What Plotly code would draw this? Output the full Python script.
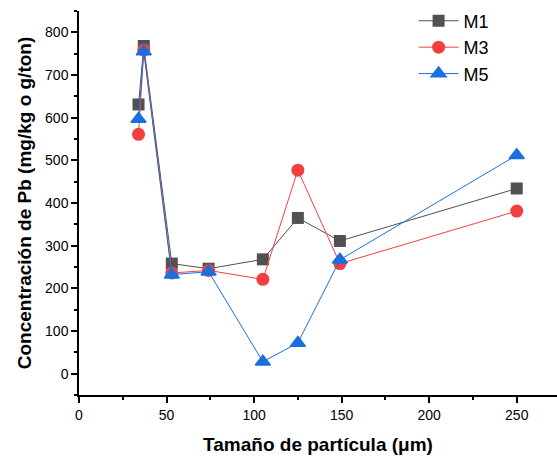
import plotly.graph_objects as go

x_vals = [34, 37, 53, 74, 105, 125, 149, 250]
m1 = [631, 768, 258, 246, 268, 365, 311, 434]
m3 = [561, 759, 236, 242, 221, 477, 258, 381]
m5 = [597, 755, 232, 239, 28, 72, 267, 512]

series = [
    ("M1", m1, "#515151", "square", 12, 0),
    ("M3", m3, "#F14040", "circle", 13, 0),
    ("M5", m5, "#1A6FDF", "triangle-up", 13, 1.5),
]

fig = go.Figure()
for name, ys, col, sym, sz, lw in series:
    fig.add_trace(go.Scatter(
        x=x_vals, y=ys, name=name, mode="lines+markers",
        line=dict(color=col, width=1),
        marker=dict(symbol=sym, size=sz, color=col, line=dict(width=lw, color=col)),
        cliponaxis=False,
    ))

font = "Liberation Sans, Arial, sans-serif"
fig.update_layout(
    width=557, height=460,
    margin=dict(l=79, r=0, t=11, b=65),
    paper_bgcolor="white", plot_bgcolor="white",
    font=dict(family=font, size=14, color="black"),
    showlegend=True,
    legend=dict(x=0.70, y=1.022, xanchor="left", yanchor="top",
                bgcolor="rgba(0,0,0,0)", font=dict(size=18, family=font),
                tracegroupgap=0, itemwidth=40),
)
fig.update_xaxes(
    range=[0, 273], showgrid=False, zeroline=False, automargin=False,
    showline=True, linecolor="black", linewidth=1.5,
    ticks="outside", ticklen=6, tickwidth=1.5, tickcolor="black",
    tick0=0, dtick=50,
    minor=dict(ticks="outside", ticklen=3, tickwidth=1.5, tickcolor="black", dtick=25, tick0=0, showgrid=False),
    title=dict(text="<b>Tamaño de partícula (μm)</b>", font=dict(size=19, family=font), standoff=16),
    tickfont=dict(size=14),
)
fig.update_yaxes(
    range=[-50, 850], showgrid=False, zeroline=False, automargin=False,
    showline=True, linecolor="black", linewidth=1.5,
    ticks="outside", ticklen=6, tickwidth=1.5, tickcolor="black",
    tick0=0, dtick=100,
    minor=dict(ticks="outside", ticklen=3, tickwidth=1.5, tickcolor="black", dtick=50, tick0=0, showgrid=False),
    title=dict(text="<b>Concentración de Pb (mg/kg o g/ton)</b>", font=dict(size=19, family=font), standoff=8),
    tickfont=dict(size=14),
)

fig.write_html("out.html", config={"displayModeBar": False},
               post_script="document.body.style.margin='0';document.body.style.overflow='hidden';")
